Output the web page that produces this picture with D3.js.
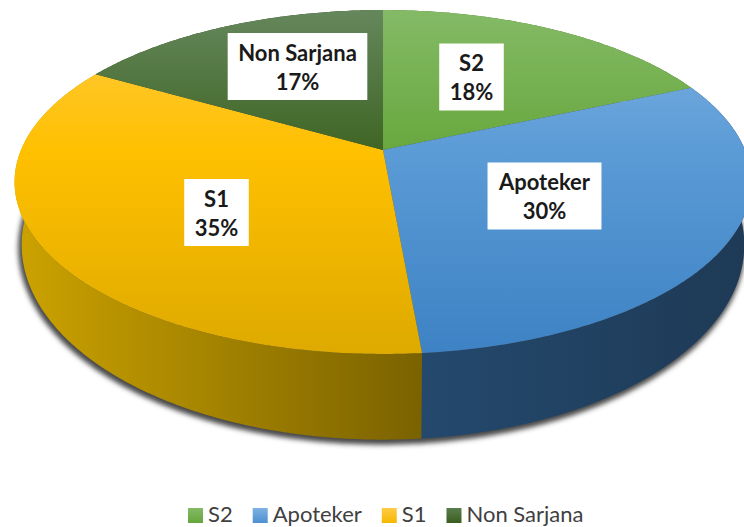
<!DOCTYPE html>
<html>
<head>
<meta charset="utf-8">
<script src="https://cdn.jsdelivr.net/npm/d3@7"></script>
<style>
html, body { margin: 0; padding: 0; background: #fff; overflow: hidden; }
svg { display: block; font-family: Lato, sans-serif; }
</style>
</head>
<body>
<script>
// values (labels round them to 18/30/35/17)
var categories = ["S2", "Apoteker", "S1", "Non Sarjana"];
var values = [18.4, 30.2, 34.7, 16.7];

var faceStops = [
    ["#84ba66", "#68a83e", "#66a63c"],
    ["#7fb1e2", "#5b9bd6", "#3d82c4"],
    ["#ffcb45", "#ffc000", "#deaa00"],
    ["#65875c", "#3f6524", "#3a5e1f"]
];
var wallStops = [
    ["#4d7a2f", "#3c5f22"],
    ["#24496d", "#1e3a56"],
    ["#7a6200", "#cba200"],
    ["#2e4a1a", "#2e4a1a"]
];
var legendStops = [
    ["#84ba66", "#66a63c"],
    ["#7fb1e2", "#4d90cf"],
    ["#ffcb45", "#f5b800"],
    ["#5a7e4c", "#3a5e1f"]
];

var width = 744, height = 527;

// perspective pie: top rim and bottom rim of the disc
var k = 0.186;
var topRim = {cx: 383, cy: 150, a: 362, b: 166};
var lowRim = {cx: 383, cy: 208.7, a: 355, b: 188};

// label box centres
var labelPos = [[471.5, 77], [544.5, 196], [216.5, 212.5], [297.5, 66.5]];

function project(rim, angle) {
    var w = 1 + k * Math.cos(angle);
    return [rim.cx + rim.a * Math.sin(angle) / w, rim.cy - rim.b * Math.cos(angle) / w];
}

function rimPoints(rim, a0, a1) {
    var n = Math.max(2, Math.ceil((a1 - a0) / 0.01));
    return d3.range(n + 1).map(function (i) {
        return project(rim, a0 + (a1 - a0) * i / n);
    });
}

var line = d3.line();
var format = d3.format(".0%");

var svg = d3.select("body")
    .append("svg")
    .attr("width", width)
    .attr("height", height);

var defs = svg.append("defs");

defs.append("filter")
    .attr("id", "blur")
    .attr("x", "-10%").attr("y", "-10%")
    .attr("width", "120%").attr("height", "120%")
    .append("feGaussianBlur")
    .attr("stdDeviation", 2.6);

categories.forEach(function (c, i) {
    var face = defs.append("linearGradient")
        .attr("id", "face" + i)
        .attr("gradientUnits", "userSpaceOnUse")
        .attr("x1", 0).attr("x2", 0).attr("y1", 10).attr("y2", 354);
    [0, 0.41, 1].forEach(function (o, j) {
        face.append("stop").attr("offset", o).attr("stop-color", faceStops[i][j]);
    });

    var wall = defs.append("linearGradient")
        .attr("id", "wall" + i)
        .attr("gradientUnits", "userSpaceOnUse")
        .attr("y1", 0).attr("y2", 0);
    // yellow wall runs left to right the other way round
    if (i === 2) {
        wall.attr("x1", 422).attr("x2", 20);
    } else {
        wall.attr("x1", 422).attr("x2", 744);
    }
    wallStops[i].forEach(function (s, j) {
        wall.append("stop").attr("offset", j).attr("stop-color", s);
    });

    var leg = defs.append("linearGradient")
        .attr("id", "leg" + i)
        .attr("x1", 0).attr("x2", 0).attr("y1", 0).attr("y2", 1);
    legendStops[i].forEach(function (s, j) {
        leg.append("stop").attr("offset", j).attr("stop-color", s);
    });
});

var arcs = d3.pie().sort(null).value(function (d) { return d; })(values);

// drop shadow under the disc
svg.append("path")
    .attr("d", line(rimPoints(lowRim, 0, 2 * Math.PI)) + "Z")
    .attr("transform", "translate(-1.5,3)")
    .attr("fill", "#4a4a4a")
    .attr("stroke", "#4a4a4a")
    .attr("stroke-width", 4)
    .attr("filter", "url(#blur)");

// side walls
svg.append("g")
    .selectAll("path")
    .data(arcs)
    .enter().append("path")
    .attr("d", function (d) {
        var up = rimPoints(topRim, d.startAngle, d.endAngle);
        var low = rimPoints(lowRim, d.startAngle, d.endAngle).reverse();
        return line(up.concat(low)) + "Z";
    })
    .attr("fill", function (d) { return "url(#wall" + d.index + ")"; });

// top face
svg.append("g")
    .selectAll("path")
    .data(arcs)
    .enter().append("path")
    .attr("d", function (d) {
        var pts = [[topRim.cx, topRim.cy]].concat(rimPoints(topRim, d.startAngle, d.endAngle));
        return line(pts) + "Z";
    })
    .attr("fill", function (d) { return "url(#face" + d.index + ")"; });

// data labels
var labels = svg.append("g")
    .selectAll("g")
    .data(arcs)
    .enter().append("g")
    .attr("transform", function (d) {
        return "translate(" + labelPos[d.index][0] + "," + labelPos[d.index][1] + ")";
    });

var boxes = labels.append("rect")
    .attr("y", -33.5)
    .attr("height", 67)
    .attr("fill", "#fff");

var labelText = labels.append("text")
    .attr("text-anchor", "middle")
    .attr("font-size", 22)
    .attr("font-weight", 700)
    .attr("fill", "#1a1a1a");

labelText.append("tspan")
    .attr("x", 0)
    .attr("y", -6)
    .text(function (d) { return categories[d.index]; });

labelText.append("tspan")
    .attr("x", 0)
    .attr("y", 23)
    .text(function (d) { return format(d.value / 100); });

boxes.each(function () {
    var g = d3.select(this.parentNode);
    var w = g.select("text").node().getBBox().width + 21;
    d3.select(this).attr("x", -w / 2).attr("width", w);
});

// legend, laid out from measured text widths
var legend = svg.append("g")
    .attr("font-size", 22)
    .attr("fill", "#404040");

var legendX = 188;
categories.forEach(function (c, i) {
    legend.append("rect")
        .attr("x", legendX)
        .attr("y", 508)
        .attr("width", 15)
        .attr("height", 15)
        .attr("fill", "url(#leg" + i + ")");
    var t = legend.append("text")
        .attr("x", legendX + 20)
        .attr("y", 522)
        .text(c);
    legendX += 20 + t.node().getComputedTextLength() + 20;
});
</script>
</body>
</html>
